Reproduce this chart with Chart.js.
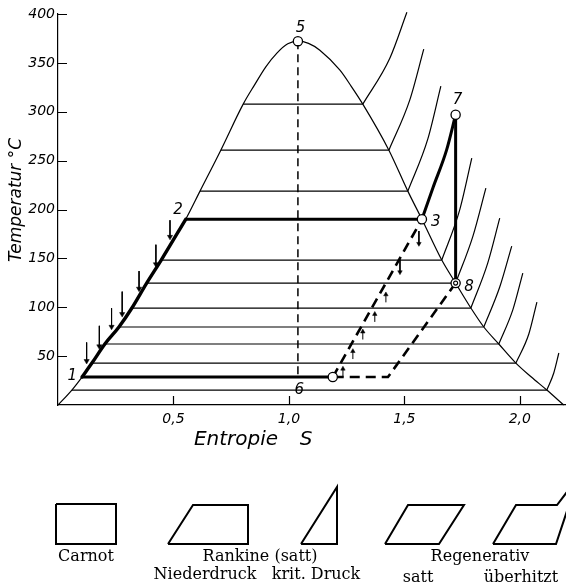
<!DOCTYPE html>
<html><head><meta charset="utf-8">
<script src="https://cdn.jsdelivr.net/npm/chart.js@4.4.1/dist/chart.umd.min.js"></script>
<style>
html,body{margin:0;padding:0;background:#fff;}
#wrap{position:relative;width:566px;height:582px;overflow:hidden;background:#fff;}
#main{position:absolute;left:0;top:0;width:566px;height:460px;}
#schema{position:absolute;left:0;top:460px;width:566px;height:122px;}
</style></head><body>
<div id="wrap"><canvas id="main" width="566" height="460"></canvas><canvas id="schema" width="566" height="122"></canvas></div>
<script>
// ---- axis ticks ----
const xTickValues = [0.5, 1.0, 1.5, 2.0];
const xTickLabels = ['0,5', '1,0', '1,5', '2,0'];
const yTickValues = [50, 100, 150, 200, 250, 300, 350, 400];
const xTitleWords = ['Entropie', 'S'];
const yTitle = 'Temperatur °C';

// ---- saturation dome (S in kcal/kg K, T in °C) ----
const domeLeftS  = [0, 0.06, 0.104, 0.147, 0.203, 0.264, 0.32, 0.384, 0.447, 0.553, 0.615, 0.705, 0.802, 0.85, 0.90, 0.948, 0.995, 1.039];
const domeLeftT  = [0, 15.3, 28.6, 42.9, 62.4, 79.8, 99.2, 124.7, 148.3, 190, 218.8, 260.7, 307.8, 327, 346, 360, 369.5, 372.2];
const domeRightS = [1.085, 1.134, 1.221, 1.27, 1.32, 1.433, 1.515, 1.576, 1.662, 1.722, 1.788, 1.844, 1.909, 1.983, 2.05, 2.117, 2.19];
const domeRightT = [370, 363, 342.5, 326, 307.8, 260.7, 218.8, 190, 148.3, 124.7, 99.2, 79.8, 62.4, 42.9, 28.6, 15.3, 0];

// ---- isotherms inside the dome ----
const isoT  = [15.3, 42.9, 62.4, 79.8, 99.2, 124.7, 148.3, 218.8, 260.7, 307.8];
const isoSL = [0.06, 0.147, 0.203, 0.264, 0.32, 0.384, 0.447, 0.615, 0.705, 0.802];
const isoSR = [2.117, 1.983, 1.909, 1.844, 1.788, 1.722, 1.662, 1.515, 1.433, 1.32];

// ---- superheated isobars ----
const supS = [
  [1.32, 1.437, 1.511], [1.433, 1.524, 1.584], [1.515, 1.602, 1.658],
  [1.662, 1.740, 1.792], [1.722, 1.797, 1.853], [1.788, 1.861, 1.913],
  [1.844, 1.913, 1.965], [1.909, 1.970, 2.013], [1.983, 2.039, 2.074],
  [2.117, 2.147, 2.169]];
const supT = [
  [307.8, 354.8, 401.8], [260.7, 312.4, 364.0], [218.8, 272.5, 326.2],
  [148.3, 199.9, 252.6], [124.7, 172.8, 221.9], [99.2, 145.2, 191.2],
  [79.8, 120.7, 162.6], [62.4, 97.6, 135.0], [42.9, 72.6, 105.3],
  [15.3, 32.7, 53.2]];

// ---- cycle ----
const evapS = [0.553, 1.576], evapT = [190, 190];
const superS = [1.576, 1.625, 1.683, 1.722], superT = [190, 223, 261, 297];
const expandS = [1.722, 1.722], expandT = [297, 124.7];
const condS = [0.104, 1.19], condT = [28.6, 28.6];
const regenS = [1.19, 1.576], regenT = [28.6, 190];
const regenCondS = [1.722, 1.429, 1.19], regenCondT = [124.7, 28.6, 28.6];
const critS = [1.039, 1.039], critT = [372.2, 28.6];

// ---- markers & labels ----
const markS = [1.039, 1.576, 1.722, 1.19, 1.722], markT = [372.2, 190, 297, 28.6, 124.7];
const innerS = [1.722], innerT = [124.7];
const labelText = ['1', '2', '3', '5', '6', '7', '8'];
const labelS = [0.062, 0.52, 1.636, 1.05, 1.045, 1.73, 1.78];
const labelT = [29.5, 199.4, 187, 386, 15, 312, 121];

// ---- heat-input arrows on 1-2 ----
const arrowS = [0.124, 0.179, 0.232, 0.278, 0.351, 0.424, 0.485];
const arrowTailT = [64, 81, 99, 116, 137, 164, 189];
const arrowTipT = [45, 60, 80, 93, 119, 144, 172];
// ---- regenerative marks ----
const regenMarkS = [1.234, 1.277, 1.320, 1.372, 1.420];
const regenMarkT = [37, 55, 75, 93, 113];
const regenDownS = [1.481, 1.563], regenDownTail = [149, 178], regenDownTip = [136, 165];

// ---- schematic strip (units = px of the strip) ----
const carnotX = [56, 116, 116, 56, 56], carnotY = [44, 44, 84, 84, 44];
const rankineX = [168, 193, 248, 248, 168], rankineY = [84, 45, 45, 84, 84];
const kritX = [301, 337, 337, 301], kritY = [84, 27, 84, 84];
const regSattX = [385, 408, 464, 439, 385], regSattY = [84, 45, 45, 84, 84];
const regHotX = [493, 516, 557, 580], regHotY = [84, 45, 45, 15];
const regHot2X = [578, 556, 493], regHot2Y = [18, 84, 84];
const schemaLabels = ['Carnot', 'Rankine (satt)', 'Regenerativ', 'Niederdruck', 'krit. Druck', 'satt', 'überhitzt'];
const schemaLabelX = [86, 260, 480, 205, 316, 418, 521];
const schemaLabelY = [97, 97, 97, 115, 115, 118, 118];

// ---------------------------------------------------------------
const K = '#000';
const pts = (S, T) => S.map((s, i) => ({x: s, y: T[i]}));
function line(S, T, o = {}) {
  return Object.assign({data: pts(S, T), showLine: true, pointRadius: 0, borderColor: K,
    borderWidth: 1.2, fill: false, clip: false, order: 5, tension: 0, capBezierPoints: false}, o);
}
const curve = {cubicInterpolationMode: 'monotone'};

const ds = [];
ds.push(line(domeLeftS.concat(domeRightS), domeLeftT.concat(domeRightT), curve));
isoT.forEach((t, i) => ds.push(line([isoSL[i], isoSR[i]], [t, t])));
supS.forEach((s, i) => ds.push(line(s, supT[i], curve)));
ds.push(line(domeLeftS.slice(2, 10), domeLeftT.slice(2, 10), Object.assign({borderWidth: 3.4, borderCapStyle: 'round'}, curve)));
ds.push(line(evapS, evapT, {borderWidth: 3}));
ds.push(line(superS, superT, Object.assign({borderWidth: 3}, curve)));
ds.push(line(expandS, expandT, {borderWidth: 3}));
ds.push(line(condS, condT, {borderWidth: 3}));
ds.push(line(critS, critT, {borderWidth: 1.5, borderDash: [8, 5]}));
ds.push(line(regenS, regenT, {borderWidth: 2.6, borderDash: [10, 6]}));
ds.push(line(regenCondS, regenCondT, {borderWidth: 2.6, borderDash: [10, 6]}));
arrowS.forEach((s, i) => ds.push(line([s, s], [arrowTailT[i], arrowTipT[i]], {borderWidth: 1})));
ds.push({data: pts(arrowS, arrowTipT), showLine: false, pointStyle: 'triangle', pointRotation: 180,
  pointRadius: 3, pointBackgroundColor: K, pointBorderColor: K, pointBorderWidth: 0.5, clip: false, order: 2});
regenMarkS.forEach((s, i) => ds.push(line([s, s], [regenMarkT[i] - 8, regenMarkT[i]], {borderWidth: 1})));
ds.push({data: pts(regenMarkS, regenMarkT), showLine: false, pointStyle: 'triangle', pointRotation: 0,
  pointRadius: 2.6, pointBackgroundColor: K, pointBorderColor: K, pointBorderWidth: 0.5, clip: false, order: 2});
regenDownS.forEach((s, i) => ds.push(line([s, s], [regenDownTail[i], regenDownTip[i]], {borderWidth: 1})));
ds.push({data: pts(regenDownS, regenDownTip), showLine: false, pointStyle: 'triangle', pointRotation: 180,
  pointRadius: 2.6, pointBackgroundColor: K, pointBorderColor: K, pointBorderWidth: 0.5, clip: false, order: 2});
ds.push({data: pts(markS, markT), showLine: false, pointStyle: 'circle', pointRadius: 4.6,
  pointBackgroundColor: '#fff', pointBorderColor: K, pointBorderWidth: 1.3, clip: false, order: 1});
ds.push({data: pts(innerS, innerT), showLine: false, pointStyle: 'circle', pointRadius: 2,
  pointBackgroundColor: '#fff', pointBorderColor: K, pointBorderWidth: 1.1, clip: false, order: 0});

const tickFont = {family: 'DejaVu Sans', style: 'italic', size: 14};
const annot = {
  id: 'annot',
  afterDatasetsDraw(chart) {
    const {ctx, chartArea: a, scales: {x, y}} = chart;
    ctx.save();
    ctx.strokeStyle = K; ctx.lineWidth = 1.2;
    ctx.beginPath();
    yTickValues.forEach(v => { const py = Math.round(y.getPixelForValue(v)) + 0.5; ctx.moveTo(a.left, py); ctx.lineTo(a.left + 9, py); });
    xTickValues.forEach(v => { const px = Math.round(x.getPixelForValue(v)) + 0.5; ctx.moveTo(px, a.bottom); ctx.lineTo(px, a.bottom - 9); });
    ctx.stroke();
    ctx.fillStyle = K;
    ctx.font = 'italic 15px "DejaVu Sans"';
    ctx.textAlign = 'center'; ctx.textBaseline = 'middle';
    labelText.forEach((t, i) => ctx.fillText(t, x.getPixelForValue(labelS[i]), y.getPixelForValue(labelT[i])));
    ctx.font = 'italic 20px "DejaVu Sans"';
    ctx.fillText(xTitleWords[0], a.left + 178, a.bottom + 35);
    ctx.fillText(xTitleWords[1], a.left + 248, a.bottom + 35);
    ctx.font = 'italic 17px "DejaVu Sans"';
    ctx.translate(17, 200); ctx.rotate(-Math.PI / 2);
    ctx.fillText(yTitle, 0, 0);
    ctx.restore();
  }
};

new Chart(document.getElementById('main'), {
  type: 'scatter',
  data: {datasets: ds},
  options: {
    responsive: false, animation: false, events: [], devicePixelRatio: 1,
    layout: {autoPadding: false, padding: {top: 14, right: 0, bottom: 0, left: 0}},
    plugins: {legend: {display: false}, tooltip: {enabled: false}},
    scales: {
      x: {type: 'linear', min: 0, max: 2.2, position: 'bottom',
        afterFit(s) { s.height = 55; s.paddingLeft = 0; s.paddingRight = 0; },
        afterBuildTicks(s) { s.ticks = xTickValues.map(v => ({value: v})); },
        ticks: {callback: (v, i) => xTickLabels[i], font: tickFont, color: K, padding: 6, maxRotation: 0, autoSkip: false},
        grid: {display: false, drawTicks: false}, border: {display: true, color: K, width: 1.2}},
      y: {type: 'linear', min: 0, max: 400, position: 'left',
        afterFit(s) { s.width = 58; s.paddingTop = 0; s.paddingBottom = 0; },
        afterBuildTicks(s) { s.ticks = yTickValues.map(v => ({value: v})); },
        ticks: {callback: v => String(v), font: tickFont, color: K, padding: 3, autoSkip: false},
        grid: {display: false, drawTicks: false}, border: {display: true, color: K, width: 1.2}}
    }
  },
  plugins: [annot]
});

// ---- schematic strip ----
const sline = (X, Y) => ({data: pts(X, Y), showLine: true, pointRadius: 0, borderColor: K, borderWidth: 2, fill: false, clip: false, tension: 0, borderJoinStyle: 'miter'});
const schemaText = {
  id: 'schemaText',
  afterDatasetsDraw(chart) {
    const {ctx, scales: {x, y}} = chart;
    ctx.save();
    ctx.fillStyle = K; ctx.font = '16px "DejaVu Serif"';
    ctx.textAlign = 'center'; ctx.textBaseline = 'middle';
    schemaLabels.forEach((t, i) => ctx.fillText(t, x.getPixelForValue(schemaLabelX[i]), y.getPixelForValue(schemaLabelY[i])));
    ctx.restore();
  }
};
new Chart(document.getElementById('schema'), {
  type: 'scatter',
  data: {datasets: [sline(carnotX, carnotY), sline(rankineX, rankineY), sline(kritX, kritY),
    sline(regSattX, regSattY), sline(regHotX, regHotY), sline(regHot2X, regHot2Y)]},
  options: {
    responsive: false, animation: false, events: [], devicePixelRatio: 1,
    layout: {autoPadding: false, padding: 0},
    plugins: {legend: {display: false}, tooltip: {enabled: false}},
    scales: {x: {type: 'linear', min: 0, max: 566, display: false},
             y: {type: 'linear', min: 0, max: 122, reverse: true, display: false}}
  },
  plugins: [schemaText]
});
</script>
</body></html>
